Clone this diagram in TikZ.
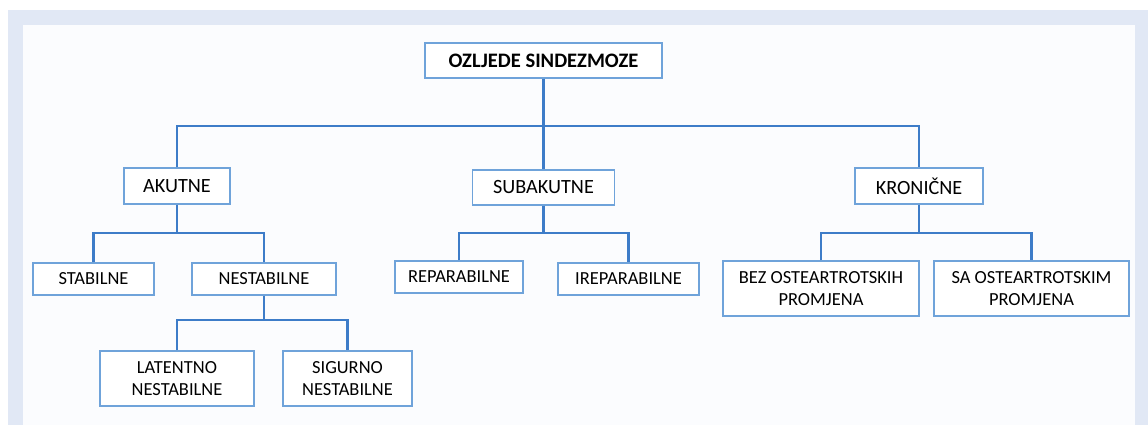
\documentclass[tikz,border=0pt]{standalone}
\usepackage{fontspec}
\setmainfont{Carlito}
\usepackage{tikz}
\definecolor{frameblue}{HTML}{E1E8F5}
\definecolor{paper}{HTML}{FBFCFE}
\definecolor{boxline}{HTML}{6FA3DA}
\definecolor{linkline}{HTML}{3D7CC8}

\begin{document}
\begin{tikzpicture}[x=0.02cm,y=-0.02cm]
		\tikzstyle{box}=[draw=boxline,line width=0.8pt,fill=white,align=center,inner sep=0pt,text=black]
		\tikzstyle{top-box}=[box,font=\fontsize{11.7}{13}\selectfont\bfseries]
		\tikzstyle{mid-box}=[box,font=\fontsize{11.5}{13}\selectfont]
		\tikzstyle{low-box}=[box,font=\fontsize{10.5}{12.4}\selectfont]
		\tikzstyle{link}=[draw=linkline,line width=1.2pt]
		% background
		\useasboundingbox (0,0) rectangle (1148,425);
		\fill [frameblue] (8,10) rectangle (1148,425);
		\fill [paper] (23,25) rectangle (1135,425);
		% level 1
		\node [top-box,minimum width=4.74cm,minimum height=0.70cm] at (543.5,60.5) (ozljede) {OZLJEDE SINDEZMOZE};
		% level 2
		\node [mid-box,minimum width=2.12cm,minimum height=0.72cm] at (177,186) (akutne) {AKUTNE};
		\node [mid-box,minimum width=2.84cm,minimum height=0.70cm] at (543.5,187.5) (subakutne) {SUBAKUTNE};
		\node [mid-box,minimum width=2.56cm,minimum height=0.72cm] at (919,186) (kronicne) {KRONIČNE};
		% level 3
		\node [low-box,minimum width=2.42cm,minimum height=0.64cm] at (93.5,279) (stabilne) {STABILNE};
		\node [low-box,minimum width=2.88cm,minimum height=0.64cm] at (264,279) (nestabilne) {NESTABILNE};
		\node [low-box,minimum width=2.56cm,minimum height=0.64cm] at (459,277) (reparabilne) {REPARABILNE};
		\node [low-box,minimum width=2.82cm,minimum height=0.64cm] at (628.5,279) (ireparabilne) {IREPARABILNE};
		\node [low-box,minimum width=3.92cm,minimum height=1.10cm] at (821,288.5) (bez) {BEZ OSTEARTROTSKIH\\PROMJENA};
		\node [low-box,minimum width=3.90cm,minimum height=1.10cm] at (1031.5,288.5) (sa) {SA OSTEARTROTSKIM\\PROMJENA};
		% level 4
		\node [low-box,minimum width=3.08cm,minimum height=1.10cm] at (177,378.5) (latentno) {LATENTNO\\NESTABILNE};
		\node [low-box,minimum width=2.58cm,minimum height=1.10cm] at (347.5,378.5) (sigurno) {SIGURNO\\NESTABILNE};
		% links
		\draw [link] (ozljede.south) -- (subakutne.north);
		\draw [link] (akutne.north) -- ++(0,-41) -| (kronicne.north);
		\draw [link] (akutne.south) -- ++(0,28) coordinate (akbar);
		\draw [link] (stabilne.north) |- (akbar) -| (nestabilne.north);
		\draw [link] (subakutne.south) -- ++(0,27) coordinate (subar);
		\draw [link] (reparabilne.north) |- (subar) -| (ireparabilne.north);
		\draw [link] (kronicne.south) -- ++(0,28) coordinate (krbar);
		\draw [link] (bez.north) |- (krbar) -| (sa.north);
		\draw [link] (nestabilne.south) -- ++(0,24) coordinate (nebar);
		\draw [link] (latentno.north) |- (nebar) -| (sigurno.north);
	\end{tikzpicture}
\end{document}
